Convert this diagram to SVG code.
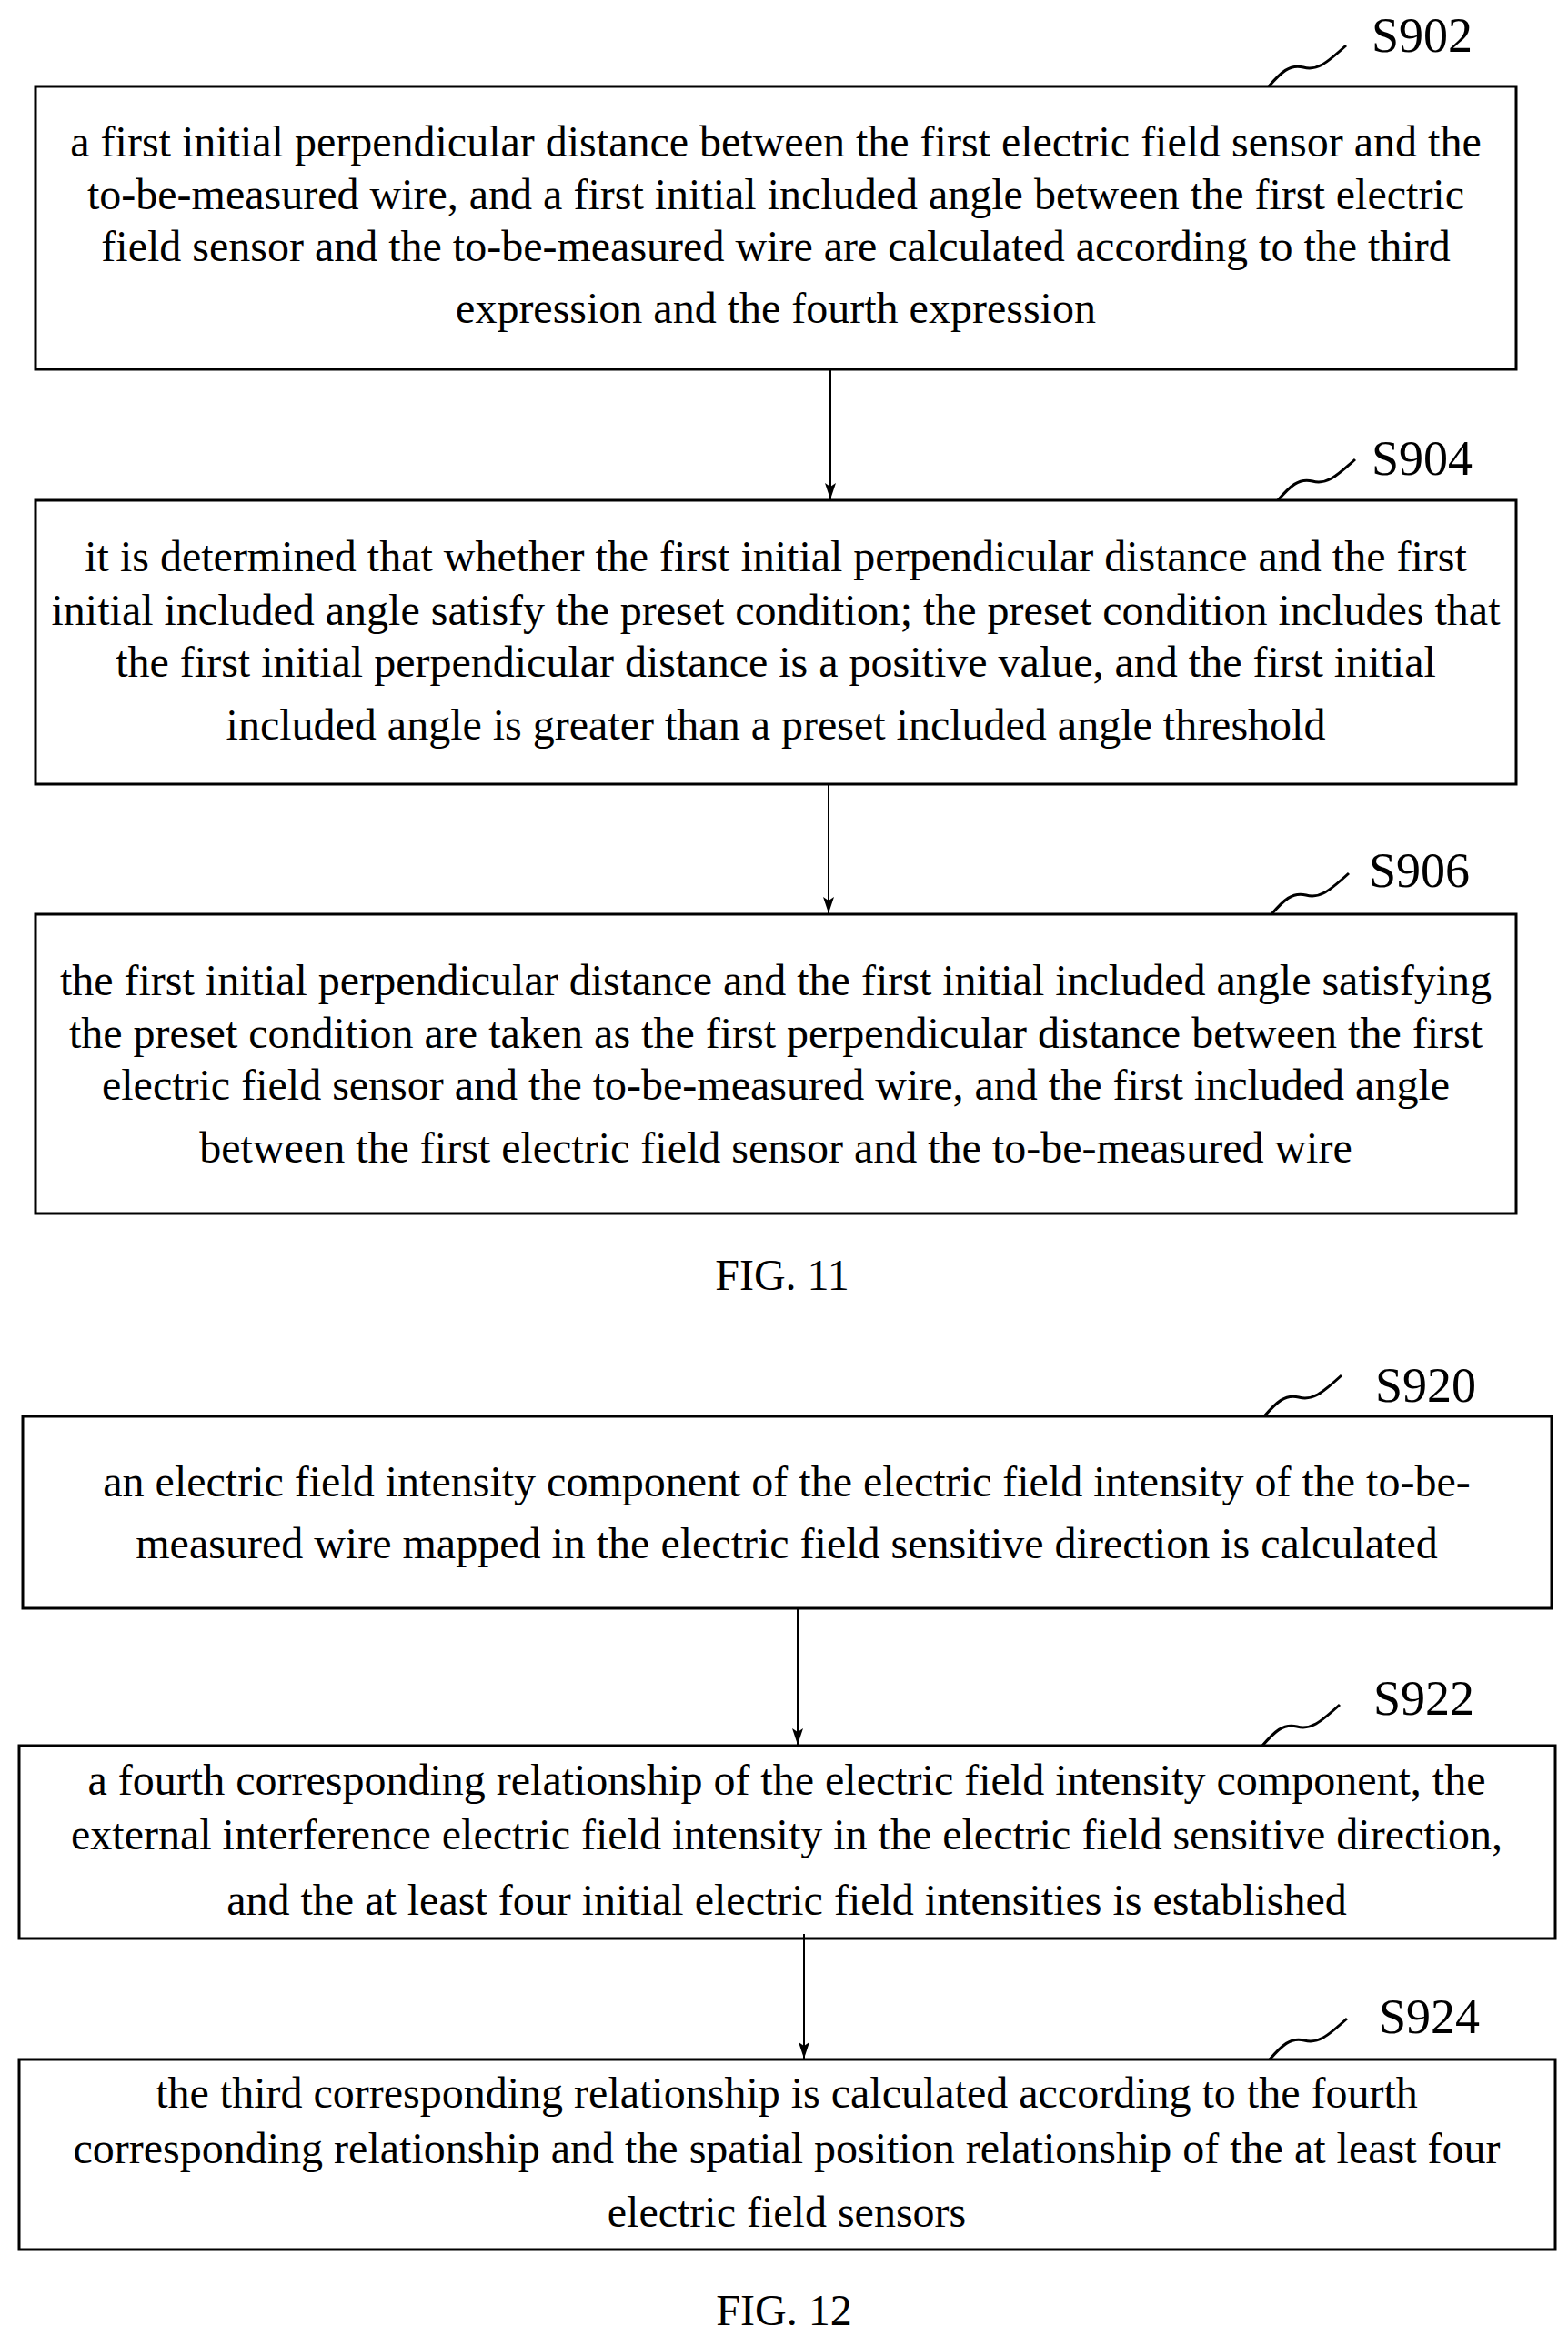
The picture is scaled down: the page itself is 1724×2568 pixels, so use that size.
<svg xmlns="http://www.w3.org/2000/svg" width="1724" height="2568" viewBox="0 0 1724 2568">
<defs>
<marker id="ah" markerWidth="18" markerHeight="12" refX="18" refY="6" orient="auto" markerUnits="userSpaceOnUse"><path d="M0,0 L18,6 L0,12 L4,6 Z" fill="#000"/></marker>
</defs>
<style>
rect{fill:#fff;stroke:#000;stroke-width:3}
text{font-family:"Liberation Serif","Times New Roman",serif;font-size:48px;fill:#000;text-anchor:middle}
.lb{text-anchor:start;font-size:54px}
.sq{fill:none;stroke:#000;stroke-width:3}
.cn{stroke:#000;stroke-width:2;fill:none}
</style>
<rect x="0" y="0" width="1724" height="2568" style="stroke:none"/>
<g id="S902">
<rect x="39" y="95" width="1628" height="311"/>
<text x="853" y="172">a first initial perpendicular distance between the first electric field sensor and the</text>
<text x="853" y="230">to-be-measured wire, and a first initial included angle between the first electric</text>
<text x="853" y="287">field sensor and the to-be-measured wire are calculated according to the third</text>
<text x="853" y="355">expression and the fourth expression</text>
<path class="sq" d="M1395,95 C1408,80 1418,70 1433,74 C1448,78 1458,70 1480,50"/>
<text class="lb" x="1508" y="57">S902</text>
</g>
<g id="S904">
<rect x="39" y="550" width="1628" height="312"/>
<text x="853" y="628">it is determined that whether the first initial perpendicular distance and the first</text>
<text x="853" y="687">initial included angle satisfy the preset condition; the preset condition includes that</text>
<text x="853" y="744">the first initial perpendicular distance is a positive value, and the first initial</text>
<text x="853" y="813">included angle is greater than a preset included angle threshold</text>
<path class="sq" d="M1405,550 C1418,535 1428,525 1443,529 C1458,533 1468,525 1490,505"/>
<text class="lb" x="1508" y="522">S904</text>
</g>
<g id="S906">
<rect x="39" y="1005" width="1628" height="329"/>
<text x="853" y="1094">the first initial perpendicular distance and the first initial included angle satisfying</text>
<text x="853" y="1152">the preset condition are taken as the first perpendicular distance between the first</text>
<text x="853" y="1209">electric field sensor and the to-be-measured wire, and the first included angle</text>
<text x="853" y="1278">between the first electric field sensor and the to-be-measured wire</text>
<path class="sq" d="M1398,1005 C1411,990 1421,980 1436,984 C1451,988 1461,980 1483,960"/>
<text class="lb" x="1505" y="975">S906</text>
</g>
<text x="860" y="1418">FIG. 11</text>
<g id="S920">
<rect x="25" y="1557" width="1681" height="211"/>
<text x="865" y="1645">an electric field intensity component of the electric field intensity of the to-be-</text>
<text x="865" y="1713">measured wire mapped in the electric field sensitive direction is calculated</text>
<path class="sq" d="M1390,1557 C1403,1542 1413,1532 1428,1536 C1443,1540 1453,1532 1475,1512"/>
<text class="lb" x="1512" y="1541">S920</text>
</g>
<g id="S922">
<rect x="21" y="1919" width="1689" height="212"/>
<text x="865" y="1973">a fourth corresponding relationship of the electric field intensity component, the</text>
<text x="865" y="2033">external interference electric field intensity in the electric field sensitive direction,</text>
<text x="865" y="2105">and the at least four initial electric field intensities is established</text>
<path class="sq" d="M1388,1919 C1401,1904 1411,1894 1426,1898 C1441,1902 1451,1894 1473,1874"/>
<text class="lb" x="1510" y="1885">S922</text>
</g>
<g id="S924">
<rect x="21" y="2264" width="1689" height="209"/>
<text x="865" y="2317">the third corresponding relationship is calculated according to the fourth</text>
<text x="865" y="2378">corresponding relationship and the spatial position relationship of the at least four</text>
<text x="865" y="2448">electric field sensors</text>
<path class="sq" d="M1396,2264 C1409,2249 1419,2239 1434,2243 C1449,2247 1459,2239 1481,2219"/>
<text class="lb" x="1516" y="2235">S924</text>
</g>
<text x="862" y="2556">FIG. 12</text>
<g id="connectors">
<line class="cn" x1="913" y1="407" x2="913" y2="549" marker-end="url(#ah)"/>
<line class="cn" x1="911" y1="863" x2="911" y2="1004" marker-end="url(#ah)"/>
<line class="cn" x1="877" y1="1769" x2="877" y2="1918" marker-end="url(#ah)"/>
<line class="cn" x1="884" y1="2126" x2="884" y2="2263" marker-end="url(#ah)"/>
</g>
</svg>
